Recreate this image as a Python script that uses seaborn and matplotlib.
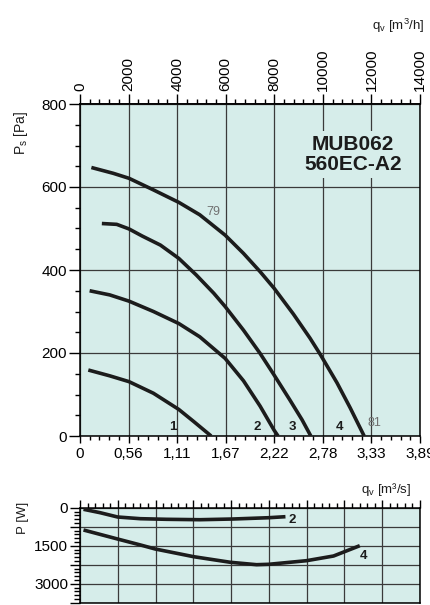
import numpy as np
import pandas as pd
import matplotlib
matplotlib.use('Agg')
import matplotlib.pyplot as plt
import seaborn as sns
from matplotlib.ticker import MultipleLocator, FixedLocator

# static pressure curves (q in m3/s, Ps in Pa)
q1 = [0.095, 0.34, 0.56, 0.84, 1.13, 1.30, 1.50]
p1 = [159, 145, 131, 103, 64, 35, 0]
q2 = [0.11, 0.34, 0.56, 0.84, 1.13, 1.37, 1.66, 1.87, 2.06, 2.22, 2.265]
p2 = [350, 340, 325, 300, 271, 239, 187, 133, 72, 14, 0]
q3 = [0.25, 0.42, 0.56, 0.71, 0.92, 1.13, 1.33, 1.53, 1.66, 1.87, 2.06, 2.22, 2.40, 2.54, 2.64]
p3 = [512, 510, 499, 482, 460, 428, 388, 344, 312, 255, 199, 147, 87, 39, 0]
q4 = [0.13, 0.38, 0.56, 0.84, 1.13, 1.37, 1.66, 1.87, 2.06, 2.22, 2.44, 2.63, 2.75, 2.94, 3.09, 3.25]
p4 = [647, 633, 621, 593, 563, 533, 484, 440, 396, 356, 294, 236, 196, 128, 68, 0]

# power curves (q in m3/s, P in W)
qw2 = [0.04, 0.23, 0.43, 0.69, 0.99, 1.37, 1.75, 2.16, 2.35]
pw2 = [63, 197, 367, 434, 458, 474, 446, 395, 355]
qw4 = [0.04, 0.43, 0.69, 0.86, 1.30, 1.72, 2.02, 2.16, 2.59, 2.90, 3.20]
pw4 = [880, 1236, 1470, 1630, 1934, 2155, 2250, 2234, 2092, 1907, 1500]

qs_ticks = ['0', '0,56', '1,11', '1,67', '2,22', '2,78', '3,33', '3,89']
qh_ticks = [0, 2000, 4000, 6000, 8000, 10000, 12000, 14000]
ps_ticks = [0, 200, 400, 600, 800]
pw_ticks = [0, 750, 1500, 2250, 3000, 3750]
pw_labels = ['0', '', '1500', '', '3000', '']

QMAX = 14000 / 3600
FILL = '#d6edea'
GRID = '#3a3a3a'
INK = '#1c1c1c'

sns.set_theme(style='ticks')
plt.rcParams['font.family'] = ['Liberation Sans', 'DejaVu Sans']
plt.rcParams['axes.edgecolor'] = 'black'
plt.rcParams['xtick.color'] = 'black'
plt.rcParams['ytick.color'] = 'black'
plt.rcParams['text.color'] = INK
plt.rcParams['lines.solid_joinstyle'] = 'round'
plt.rcParams['lines.solid_capstyle'] = 'butt'

fig = plt.figure(figsize=(4.3, 6.05), dpi=100)

# ---- main chart: static pressure
ax = fig.add_axes([80 / 430, 1 - 436 / 605, 340 / 430, 332 / 605])
ax.set_facecolor(FILL)
curves = pd.concat([
    pd.DataFrame({'q': q, 'p': p, 'curve': name})
    for q, p, name in [(q1, p1, '1'), (q2, p2, '2'), (q3, p3, '3'), (q4, p4, '4')]
])
for name, d in curves.groupby('curve'):
    sns.lineplot(data=d, x='q', y='p', color=INK, lw=2.6, sort=False,
                 estimator=None, ax=ax, legend=False, zorder=4)

ax.set_xlim(0, QMAX)
ax.set_ylim(0, 800)
ax.set_xlabel('')
ax.set_ylabel('')
ax.set_xticks(np.array(qh_ticks) / 3600)
ax.set_xticklabels(qs_ticks)
ax.xaxis.set_minor_locator(FixedLocator(np.arange(0, 14001, 400) / 3600))
ax.set_yticks(ps_ticks)
ax.yaxis.set_minor_locator(MultipleLocator(50))
ax.grid(True, which='major', color=GRID, lw=0.9)
ax.set_axisbelow(True)
for s in ax.spines.values():
    s.set_linewidth(1.1)
    s.set_visible(True)
ax.tick_params(axis='y', which='major', length=8, width=1, pad=1.5, labelsize=11)
ax.tick_params(axis='y', which='minor', length=3.5, width=1)
ax.tick_params(axis='x', which='major', length=5, width=1, pad=3, labelsize=11)
ax.tick_params(axis='x', which='minor', length=3, width=1)

top = ax.secondary_xaxis('top', functions=(lambda x: x * 3600, lambda x: x / 3600))
top.set_xticks(qh_ticks)
top.xaxis.set_minor_locator(MultipleLocator(400))
top.tick_params(which='major', length=7, width=1, pad=2, labelsize=11, labelrotation=90)
top.tick_params(which='minor', length=3.5, width=1)

for lbl, x in [('1', 1.06), ('2', 2.03), ('3', 2.43), ('4', 2.97)]:
    ax.text(x, 22, lbl, fontsize=9.5, fontweight='bold', ha='center', va='center')
ax.text(1.53, 540, '79', fontsize=9, color='#707070', ha='center', va='center')
ax.text(3.37, 32, '81', fontsize=9, color='#707070', ha='center', va='center')
ax.text(3.12, 679, 'MUB062\n560EC-A2', fontsize=15, fontweight='bold', ha='center',
        va='center', linespacing=1.05, zorder=5,
        bbox=dict(facecolor=FILL, edgecolor='none', pad=3))

fig.text(21 / 430, 1 - 133 / 605, '$\\mathregular{P_s}$ [Pa]', rotation=90,
         fontsize=10, ha='center', va='center')
fig.text(398 / 430, 1 - 26 / 605, '$\\mathregular{q_v}$ [$\\mathregular{m^3}$/h]',
         fontsize=9.5, ha='center', va='center')

# ---- lower chart: power
ax2 = fig.add_axes([80 / 430, 1 - 602.7 / 605, 340 / 430, 95 / 605])
ax2.set_facecolor(FILL)
power = pd.concat([
    pd.DataFrame({'q': qw2, 'p': pw2, 'curve': '2'}),
    pd.DataFrame({'q': qw4, 'p': pw4, 'curve': '4'}),
])
for name, d in power.groupby('curve'):
    sns.lineplot(data=d, x='q', y='p', color=INK, lw=2.6, sort=False,
                 estimator=None, ax=ax2, legend=False, zorder=4)
ax2.set_xlim(0, QMAX)
ax2.set_ylim(3750, 0)
ax2.set_xlabel('')
ax2.set_ylabel('')
ax2.xaxis.tick_top()
ax2.set_xticks(np.linspace(0, QMAX, 10))
ax2.xaxis.set_minor_locator(FixedLocator(np.linspace(0, QMAX, 46)))
ax2.tick_params(axis='x', which='both', labeltop=False, labelbottom=False)
ax2.tick_params(axis='x', which='major', length=6, width=1)
ax2.tick_params(axis='x', which='minor', length=3.5, width=1)
ax2.set_yticks(pw_ticks)
ax2.set_yticklabels(pw_labels)
ax2.yaxis.set_minor_locator(MultipleLocator(150))
ax2.tick_params(axis='y', which='major', length=7, width=1, pad=1.5, labelsize=11)
ax2.tick_params(axis='y', which='minor', length=4, width=1)
ax2.grid(True, which='major', color=GRID, lw=0.9)
ax2.set_axisbelow(True)
for s in ax2.spines.values():
    s.set_linewidth(1.1)
    s.set_visible(True)
ax2.text(2.43, 486, '2', fontsize=9.5, fontweight='bold', ha='center', va='center')
ax2.text(3.24, 1907, '4', fontsize=9.5, fontweight='bold', ha='center', va='center')

fig.text(23 / 430, 1 - 518 / 605, 'P [W]', rotation=90, fontsize=9.5,
         ha='center', va='center')
fig.text(386 / 430, 1 - 490 / 605, '$\\mathregular{q_v}$ [m³/s]', fontsize=9.5,
         ha='center', va='center')

fig.savefig('out.png', dpi=100)
